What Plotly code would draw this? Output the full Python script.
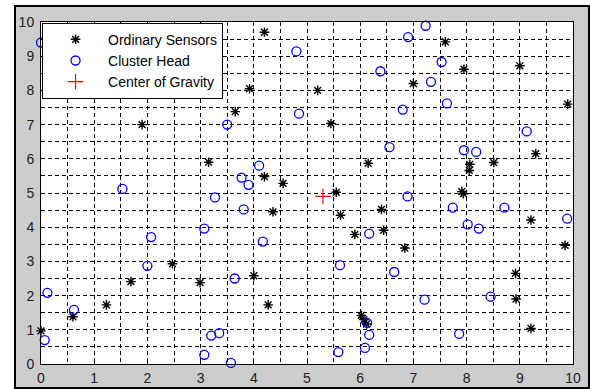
import plotly.graph_objects as go

# ---- data ----
sensors_x = [4.2, 3.92, 3.65, 1.9, 3.15, 4.2, 4.55, 7.6, 7.95, 9.0, 7.0, 5.2, 9.9, 5.45,
             9.3, 6.15, 8.06, 8.05, 8.51, 5.55, 7.91, 7.94, 5.63, 6.4, 9.21, 5.9, 6.44,
             6.84, 9.85, 8.92, 8.93, 6.02, 6.07, 6.12, 9.21, 4.36, 2.47, 1.69, 2.99, 4.0,
             1.23, 4.27, 0.6, 0.0]
sensors_y = [9.7, 8.05, 7.38, 7.0, 5.9, 5.48, 5.28, 9.42, 8.62, 8.72, 8.2, 8.0, 7.6, 7.03,
             6.15, 5.87, 5.84, 5.66, 5.89, 5.02, 5.04, 4.98, 4.35, 4.52, 4.21, 3.79, 3.91,
             3.39, 3.47, 2.65, 1.9, 1.42, 1.3, 1.17, 1.04, 4.45, 2.93, 2.41, 2.38, 2.58,
             1.73, 1.73, 1.38, 0.97]

heads_x = [0.0, 4.8, 3.5, 4.85, 4.1, 3.77, 3.9, 1.53, 3.27, 7.23, 6.9, 7.53, 6.38, 7.33,
           6.8, 7.63, 9.13, 6.55, 7.95, 8.18, 6.89, 7.74, 8.71, 9.89, 8.02, 8.23, 6.17,
           5.62, 6.64, 8.45, 7.21, 6.13, 6.17, 7.86, 6.09, 5.59, 3.81, 3.07, 2.07, 4.17,
           2.0, 3.64, 0.12, 0.62, 0.07, 3.2, 3.35, 3.07, 3.57]
heads_y = [9.4, 9.14, 7.0, 7.32, 5.8, 5.45, 5.24, 5.12, 4.87, 9.89, 9.56, 8.83, 8.56, 8.25,
           7.44, 7.62, 6.8, 6.34, 6.25, 6.2, 4.9, 4.57, 4.57, 4.25, 4.08, 3.96, 3.81,
           2.89, 2.69, 1.97, 1.88, 1.2, 0.85, 0.88, 0.47, 0.35, 4.52, 3.96, 3.71, 3.58,
           2.87, 2.5, 2.08, 1.58, 0.7, 0.83, 0.9, 0.27, 0.03]

cog_x = [5.3]
cog_y = [4.9]

tick_vals = [0, 1, 2, 3, 4, 5, 6, 7, 8, 9, 10]
tick_text = ["0", "1", "2", "3", "4", "5", "6", "7", "8", "9", "10"]
series_names = ["Ordinary Sensors", "Cluster Head", "Center of Gravity"]

FONT = "Arial, Liberation Sans, Helvetica, sans-serif"

fig = go.Figure()
fig.add_trace(go.Scatter(
    x=sensors_x, y=sensors_y, mode="markers", name=series_names[0], cliponaxis=False,
    marker=dict(symbol="asterisk-open", size=8, color="black",
                line=dict(color="black", width=1.4))))
fig.add_trace(go.Scatter(
    x=heads_x, y=heads_y, mode="markers", name=series_names[1], cliponaxis=False,
    marker=dict(symbol="circle-open", size=9, color="#0000ff",
                line=dict(color="#0000ff", width=1.3))))
fig.add_trace(go.Scatter(
    x=cog_x, y=cog_y, mode="markers", name=series_names[2], cliponaxis=False,
    marker=dict(symbol="cross-thin-open", size=11, color="red",
                line=dict(color="red", width=1.2))))

axis_common = dict(
    range=[0, 10], tickmode="array", tickvals=tick_vals, ticktext=tick_text,
    showgrid=True, gridcolor="black", gridwidth=1, griddash="4px,3px",
    minor=dict(dtick=0.5, showgrid=True, gridcolor="black", gridwidth=1,
               griddash="4px,3px", ticks=""),
    showline=True, linecolor="black", linewidth=1, mirror=True,
    ticks="inside", ticklen=4, tickcolor="black",
    tickfont=dict(family=FONT, size=14, color="#222222"),
    zeroline=False, fixedrange=True, automargin=False,
)

fig.update_xaxes(**axis_common, ticklabelstandoff=1)
fig.update_yaxes(**axis_common, ticklabelstandoff=3)

W, H = 590, 389
ml, mr, mt, mb = 41, 17, 22, 25
pw, ph = W - ml - mr, H - mt - mb

def px_x(p):
    return (p - ml) / pw

def px_y(p):
    return (H - mb - p) / ph

GREY = "#cccccc"

fig.update_layout(
    width=W, height=H,
    margin=dict(l=ml, r=mr, t=mt, b=mb, pad=0),
    paper_bgcolor=GREY, plot_bgcolor="white",
    font=dict(family=FONT, size=14, color="black"),
    showlegend=True,
    legend=dict(x=0.002, y=0.998, xanchor="left", yanchor="top",
                bgcolor="white", bordercolor="black", borderwidth=1,
                font=dict(family=FONT, size=14, color="black"),
                itemwidth=55, tracegroupgap=0),
    shapes=[
        # white strip left of the frame
        dict(type="rect", xref="paper", yref="paper", layer="above",
             x0=px_x(-5), x1=px_x(14), y0=px_y(400), y1=px_y(-5),
             fillcolor="white", line=dict(width=0)),
        # white strip above the frame
        dict(type="rect", xref="paper", yref="paper", layer="above",
             x0=px_x(-5), x1=px_x(600), y0=px_y(5), y1=px_y(-5),
             fillcolor="white", line=dict(width=0)),
        # black frame
        dict(type="rect", xref="paper", yref="paper", layer="above",
             x0=px_x(15), x1=px_x(589), y0=px_y(388), y1=px_y(6),
             fillcolor="rgba(0,0,0,0)", line=dict(color="black", width=2)),
    ],
)

fig.write_html("out.html", config={"displayModeBar": False},
               post_script="document.body.style.margin='0px';")
